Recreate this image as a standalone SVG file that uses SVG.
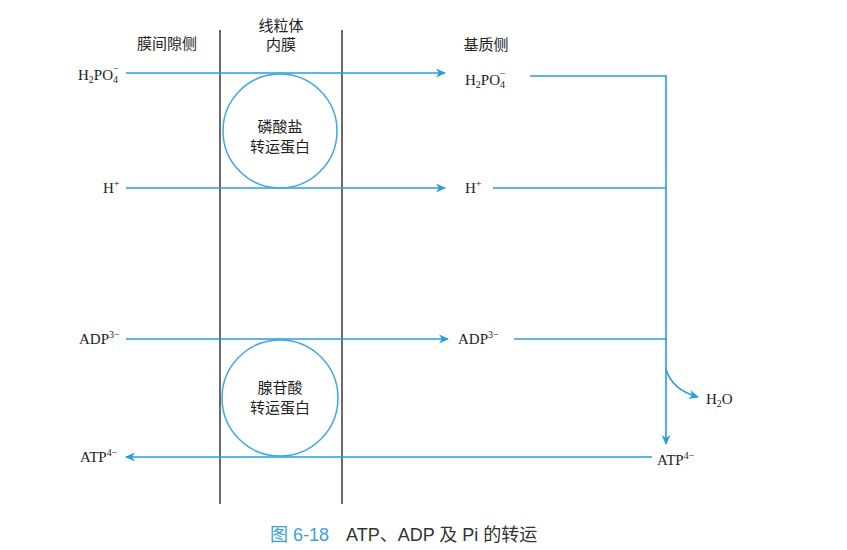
<svg xmlns="http://www.w3.org/2000/svg" width="847" height="550" viewBox="0 0 847 550">
<style>
.mem{stroke:#1a1a1a;stroke-width:1.3;fill:none}
.flow{stroke:#2a9ddc;stroke-width:1.6;fill:none}
.prot{stroke:#3ea8e3;stroke-width:1.5;fill:none}
.lbl{font-family:"Liberation Serif","Noto Sans CJK SC",serif;font-size:15px;fill:#222}
.cjk{font-family:"Noto Sans CJK SC",sans-serif;font-size:15px;fill:#222}
.sub{font-size:10px}
.cap{font-family:"Liberation Sans","Noto Sans CJK SC",sans-serif;font-size:18px;fill:#333}
</style>
<defs>
<marker id="ah" viewBox="0 0 10 10" refX="9" refY="5" markerWidth="10" markerHeight="10" markerUnits="userSpaceOnUse" orient="auto">
<path d="M0,0.5 L10,5 L0,9.5 L3,5 Z" fill="#2a9ddc"/>
</marker>
</defs>
<rect width="847" height="550" fill="#ffffff"/>
<g id="membranes">
<line class="mem" x1="220" y1="30" x2="220" y2="504"/>
<line class="mem" x1="342" y1="30" x2="342" y2="504"/>
</g>
<g id="headers">
<text class="cjk" x="167" y="49" text-anchor="middle">膜间隙侧</text>
<text class="cjk" x="281" y="31" text-anchor="middle">线粒体</text>
<text class="cjk" x="281" y="50" text-anchor="middle">内膜</text>
<text class="cjk" x="486" y="50" text-anchor="middle">基质侧</text>
</g>
<g id="connectors">
<line class="flow" x1="126" y1="73" x2="445" y2="73" marker-end="url(#ah)"/>
<line class="flow" x1="126" y1="188" x2="445" y2="188" marker-end="url(#ah)"/>
<line class="flow" x1="126" y1="339" x2="448" y2="339" marker-end="url(#ah)"/>
<line class="flow" x1="652" y1="457" x2="126" y2="457" marker-end="url(#ah)"/>
<polyline class="flow" points="530,76 666,76 666,444" marker-end="url(#ah)"/>
<line class="flow" x1="493" y1="188" x2="666" y2="188"/>
<line class="flow" x1="514" y1="339" x2="666" y2="339"/>
<path class="flow" d="M666,369 Q672,390 698,397" marker-end="url(#ah)"/>
</g>
<g id="pi-transporter">
<circle class="prot" cx="280" cy="131" r="57"/>
<text class="cjk" x="280" y="132" text-anchor="middle">磷酸盐</text>
<text class="cjk" x="280" y="152" text-anchor="middle">转运蛋白</text>
</g>
<g id="adenine-transporter">
<circle class="prot" cx="280" cy="398" r="58"/>
<text class="cjk" x="280" y="393" text-anchor="middle">腺苷酸</text>
<text class="cjk" x="280" y="413" text-anchor="middle">转运蛋白</text>
</g>
<g id="left-h2po4"><text class="lbl" x="78" y="80">H<tspan class="sub" dy="3">2</tspan><tspan dy="-3">PO</tspan><tspan class="sub" dy="3">4</tspan><tspan class="sub" dx="-5" dy="-11">−</tspan></text></g>
<g id="left-h"><text class="lbl" x="103" y="193">H<tspan class="sub" dy="-6">+</tspan></text></g>
<g id="left-adp"><text class="lbl" x="79" y="344">ADP<tspan class="sub" dy="-6">3−</tspan></text></g>
<g id="left-atp"><text class="lbl" x="80" y="462">ATP<tspan class="sub" dy="-6">4−</tspan></text></g>
<g id="right-h2po4"><text class="lbl" x="465" y="85">H<tspan class="sub" dy="3">2</tspan><tspan dy="-3">PO</tspan><tspan class="sub" dy="3">4</tspan><tspan class="sub" dx="-5" dy="-11">−</tspan></text></g>
<g id="right-h"><text class="lbl" x="465" y="193">H<tspan class="sub" dy="-6">+</tspan></text></g>
<g id="right-adp"><text class="lbl" x="458" y="344">ADP<tspan class="sub" dy="-6">3−</tspan></text></g>
<g id="right-atp"><text class="lbl" x="657" y="465">ATP<tspan class="sub" dy="-6">4−</tspan></text></g>
<g id="h2o"><text class="lbl" x="706" y="404">H<tspan class="sub" dy="3">2</tspan><tspan dy="-3">O</tspan></text></g>
<g id="caption">
<text class="cap" x="270" y="541"><tspan fill="#3a9fe0">图 6-18</tspan><tspan x="346">ATP、ADP 及 Pi 的转运</tspan></text>
</g>
</svg>
